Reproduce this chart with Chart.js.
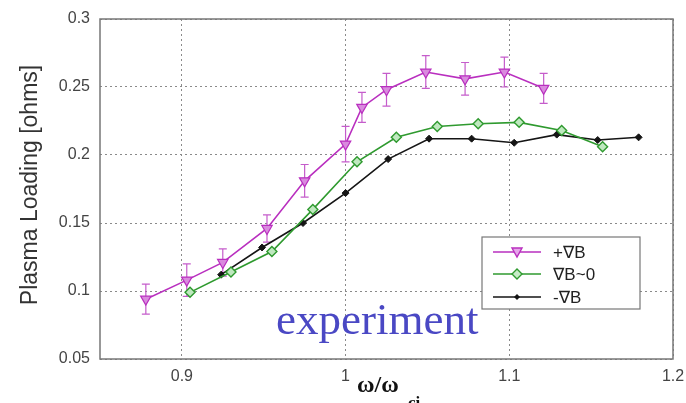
<!DOCTYPE html>
<html>
<head>
<meta charset="utf-8">
<script src="https://cdn.jsdelivr.net/npm/chart.js@4"></script>
<style>
  html, body { margin: 0; padding: 0; background: #fff; }
  #wrap { width: 686px; height: 403px; position: relative; }
</style>
</head>
<body>
<div id="wrap"><canvas id="myChart"></canvas></div>
<script>
// values
const plusX  = [0.878, 0.903, 0.925, 0.952, 0.975, 1.000, 1.010, 1.025, 1.049, 1.073, 1.097, 1.121];
const plusY  = [0.094, 0.108, 0.121, 0.146, 0.181, 0.208, 0.235, 0.248, 0.261, 0.256, 0.261, 0.249];
const plusErr = [0.011, 0.012, 0.010, 0.010, 0.012, 0.013, 0.011, 0.012, 0.012, 0.012, 0.011, 0.011];

const zeroX = [0.905, 0.930, 0.955, 0.980, 1.007, 1.031, 1.056, 1.081, 1.106, 1.132, 1.157];
const zeroY = [0.099, 0.114, 0.129, 0.160, 0.195, 0.213, 0.221, 0.223, 0.224, 0.218, 0.206];

const minusX = [0.924, 0.949, 0.974, 1.000, 1.026, 1.051, 1.077, 1.103, 1.129, 1.154, 1.179];
const minusY = [0.112, 0.132, 0.150, 0.172, 0.197, 0.212, 0.212, 0.209, 0.215, 0.211, 0.213];

const seriesNames = ["+\u2207B", "\u2207B~0", "-\u2207B"];
const xTicks = [0.9, 1.0, 1.1, 1.2];
const xTickLabels = ["0.9", "1", "1.1", "1.2"];
const yTicks = [0.05, 0.1, 0.15, 0.2, 0.25, 0.3];
const yTickLabels = ["0.05", "0.1", "0.15", "0.2", "0.25", "0.3"];

const magenta = "#b92fbf";
const green = "#2f9a2f";
const black = "#151515";

function pts(xs, ys) {
    return xs.map((x, i) => ({ x: x, y: ys[i] }));
}

const sansFont = "'Liberation Sans', Arial, 'DejaVu Sans', sans-serif";
const serifFont = "'Liberation Serif', 'Times New Roman', serif";

// error bars, frame, labels and legend
const extras = {
    id: "extras",
    beforeDatasetsDraw(chart) {
        const c = chart.ctx;
        const xs = chart.scales.x, ys = chart.scales.y;
        c.save();
        c.strokeStyle = "#c55ccb";
        c.lineWidth = 1.2;
        plusX.forEach((x, i) => {
            const px = xs.getPixelForValue(x);
            const top = ys.getPixelForValue(plusY[i] + plusErr[i]);
            const bot = ys.getPixelForValue(plusY[i] - plusErr[i]);
            c.beginPath();
            c.moveTo(px, top); c.lineTo(px, bot);
            c.moveTo(px - 4, top); c.lineTo(px + 4, top);
            c.moveTo(px - 4, bot); c.lineTo(px + 4, bot);
            c.stroke();
        });
        c.restore();
    },
    afterDraw(chart) {
        const c = chart.ctx;
        const a = chart.chartArea;
        c.save();
        // frame
        c.strokeStyle = "#777";
        c.lineWidth = 1.5;
        c.strokeRect(a.left, a.top, a.right - a.left, a.bottom - a.top);

        // y title
        c.fillStyle = "#333";
        c.font = "23px " + sansFont;
        c.textAlign = "center";
        c.textBaseline = "middle";
        c.translate(31, 185);
        c.rotate(-Math.PI / 2);
        c.fillText("Plasma Loading [ohms]", 0, 0);
        c.setTransform(1, 0, 0, 1, 0, 0);

        // x title
        c.fillStyle = "#111";
        c.textAlign = "left";
        c.textBaseline = "alphabetic";
        c.font = "bold 24px " + serifFont;
        c.fillText("\u03C9/\u03C9", 357, 392);
        c.font = "bold 17px " + serifFont;
        c.fillText("ci", 408, 408);

        // experiment
        c.fillStyle = "#4a48c4";
        c.font = "45px " + serifFont;
        c.fillText("experiment", 276, 334);

        // legend box
        const lx = 482, ly = 237, lw = 158, lh = 72;
        c.fillStyle = "#fff";
        c.fillRect(lx, ly, lw, lh);
        c.strokeStyle = "#777";
        c.lineWidth = 1.2;
        c.strokeRect(lx, ly, lw, lh);
        const rows = [252, 274, 297];
        const cols = [magenta, green, black];
        c.font = "17px " + sansFont;
        c.textBaseline = "middle";
        rows.forEach((y, i) => {
            c.strokeStyle = cols[i];
            c.lineWidth = 1.4;
            c.beginPath();
            c.moveTo(493, y); c.lineTo(541, y);
            c.stroke();
            const mx = 517;
            c.beginPath();
            if (i === 0) {
                c.moveTo(mx - 5, y - 4); c.lineTo(mx + 5, y - 4); c.lineTo(mx, y + 5); c.closePath();
                c.fillStyle = "#e6a6ea"; c.fill(); c.stroke();
            } else if (i === 1) {
                c.moveTo(mx, y - 5); c.lineTo(mx + 5, y); c.lineTo(mx, y + 5); c.lineTo(mx - 5, y); c.closePath();
                c.fillStyle = "#c8ecc8"; c.fill(); c.stroke();
            } else {
                c.moveTo(mx, y - 3); c.lineTo(mx + 3, y); c.lineTo(mx, y + 3); c.lineTo(mx - 3, y); c.closePath();
                c.fillStyle = black; c.fill();
            }
            c.fillStyle = "#222";
            c.fillText(seriesNames[i], 553, y + 1);
        });
        c.restore();
    }
};

const ctx = document.getElementById("myChart");

let config = {
    type: "scatter",
    data: {
        datasets: [
            {
                label: seriesNames[0],
                data: pts(plusX, plusY),
                showLine: true,
                borderColor: magenta,
                borderWidth: 1.6,
                pointStyle: "triangle",
                rotation: 180,
                pointRadius: 6,
                pointBackgroundColor: "#d98ade",
                pointBorderColor: magenta,
                pointBorderWidth: 1.2
            },
            {
                label: seriesNames[1],
                data: pts(zeroX, zeroY),
                showLine: true,
                borderColor: green,
                borderWidth: 1.6,
                pointStyle: "rectRot",
                pointRadius: 5,
                pointBackgroundColor: "#bfe8bf",
                pointBorderColor: green,
                pointBorderWidth: 1.4
            },
            {
                label: seriesNames[2],
                data: pts(minusX, minusY),
                showLine: true,
                borderColor: black,
                borderWidth: 1.6,
                pointStyle: "rectRot",
                pointRadius: 3.5,
                pointBackgroundColor: black,
                pointBorderColor: black,
                pointBorderWidth: 1
            }
        ]
    },
    options: {
        responsive: true,
        maintainAspectRatio: false,
        animation: false,
        layout: { padding: { left: 0, right: 13, top: 19, bottom: 0 } },
        plugins: {
            legend: { display: false },
            tooltip: { enabled: false }
        },
        scales: {
            x: {
                type: "linear",
                min: 0.85,
                max: 1.2,
                afterBuildTicks: (s) => { s.ticks = xTicks.map(v => ({ value: v })); },
                afterFit: (s) => { s.height = 44; s.paddingLeft = 0; s.paddingRight = 0; },
                grid: { color: "#8a8a8a", lineWidth: 1, drawTicks: false },
                border: { display: false },
                ticks: {
                    padding: 8,
                    color: "#444",
                    font: { family: sansFont, size: 16 },
                    maxRotation: 0,
                    callback: (v) => { const i = xTicks.findIndex(t => Math.abs(t - v) < 1e-9); return i >= 0 ? xTickLabels[i] : ""; }
                }
            },
            y: {
                type: "linear",
                min: 0.05,
                max: 0.3,
                afterBuildTicks: (s) => { s.ticks = yTicks.map(v => ({ value: v })); },
                afterFit: (s) => { s.width = 100; s.paddingTop = 0; s.paddingBottom = 0; },
                grid: { color: "#8a8a8a", lineWidth: 1, drawTicks: false },
                border: { display: false },
                ticks: {
                    padding: 10,
                    color: "#444",
                    font: { family: sansFont, size: 16 },
                    callback: (v) => { const i = yTicks.findIndex(t => Math.abs(t - v) < 1e-9); return i >= 0 ? yTickLabels[i] : ""; }
                }
            }
        }
    },
    plugins: [extras]
};

// dotted grid like the reference
config.options.scales.x.grid.borderDash = [2, 3];
config.options.scales.y.grid.borderDash = [2, 3];
config.options.scales.x.border.dash = [2, 3];
config.options.scales.y.border.dash = [2, 3];

let myChart = new Chart(ctx, config);
</script>
</body>
</html>
